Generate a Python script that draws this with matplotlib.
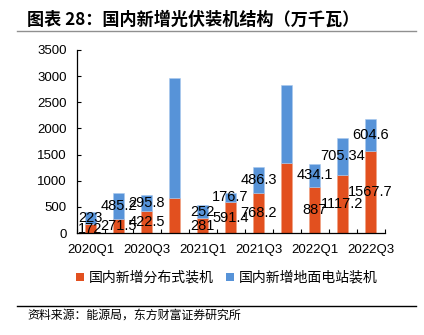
import matplotlib
matplotlib.use("Agg")
import matplotlib.pyplot as plt
from matplotlib.lines import Line2D
from matplotlib.patches import Patch

plt.rcParams['font.family'] = ['Liberation Sans', 'Noto Sans CJK SC', 'DejaVu Sans']

quarters = ["2020Q1", "2020Q2", "2020Q3", "2020Q4", "2021Q1", "2021Q2",
            "2021Q3", "2021Q4", "2022Q1", "2022Q2", "2022Q3"]
distributed = [172, 271.5, 422.5, 675, 281, 591.4, 768.2, 1345, 887, 1117.2, 1567.7]
ground = [223, 485.2, 295.8, 2280, 252, 176.7, 486.3, 1480, 434.1, 705.34, 604.6]
# quarters whose segments carry value labels
labelled = [True, True, True, False, True, True, True, False, True, True, True]
tick_labels = ["2020Q1", "2020Q3", "2021Q1", "2021Q3", "2022Q1", "2022Q3"]

series_names = ["国内新增分布式装机", "国内新增地面电站装机"]
title = "图表 28：国内新增光伏装机结构（万千瓦）"
source = "资料来源：能源局，东方财富证券研究所"

c_dist = "#E2501F"
c_ground = "#5793D8"

W, H = 424, 335
fig = plt.figure(figsize=(W / 100, H / 100), dpi=100)
ax = fig.add_axes([76.5 / W, 1 - 233 / H, 308 / W, 183 / H])

x = list(range(len(quarters)))
bw = 0.41
ax.bar(x, distributed, width=bw, color=c_dist, edgecolor="#F0A080", linewidth=0.4)
ax.bar(x, ground, width=bw, bottom=distributed, color=c_ground,
       edgecolor="#A9C9EE", linewidth=0.4)

for i in x:
    if not labelled[i]:
        continue
    d, g = distributed[i], ground[i]
    ax.text(i, d / 2, f"{d:g}", ha="center", va="center", fontsize=10.5, color="black")
    ax.text(i, d + g / 2, f"{g:g}", ha="center", va="center", fontsize=10.5, color="black")

ax.set_xlim(-0.5, len(quarters) - 0.5)
ax.set_ylim(0, 3500)
ax.set_yticks(range(0, 3501, 500))
ax.tick_params(axis="y", direction="in", length=3, width=0.8, labelsize=9.5,
               pad=7, colors="black")

# category boundaries carry the tick marks, labels sit on every other quarter
ax.set_xticks([i - 0.5 for i in range(len(quarters) + 1)])
ax.set_xticklabels([])
ax.tick_params(axis="x", which="major", direction="in", length=3, width=0.8)
ax.set_xticks(list(range(0, len(quarters), 2)), minor=True)
ax.set_xticklabels(tick_labels, minor=True)
ax.tick_params(axis="x", which="minor", length=0, labelsize=9.5, pad=8)

for s in ["top", "right"]:
    ax.spines[s].set_visible(False)
for s in ["left", "bottom"]:
    ax.spines[s].set_linewidth(0.9)
    ax.spines[s].set_color("black")

fig.text(27 / W, 1 - 19.5 / H, title, fontsize=12.3, fontweight="bold",
         ha="left", va="center", family=["Noto Sans CJK SC"])
fig.add_artist(Line2D([17 / W, 416 / W], [1 - 31 / H] * 2, color="#909090", linewidth=1))

handles = [Patch(facecolor=c_dist, edgecolor="none"), Patch(facecolor=c_ground, edgecolor="none")]
fig.legend(handles, series_names, loc="center", bbox_to_anchor=(227 / W, 1 - 278 / H),
           ncol=2, frameon=False, handlelength=0.55, handleheight=0.55,
           handletextpad=0.35, columnspacing=0.9,
           prop={"family": ["Noto Sans CJK SC"], "size": 10})

fig.add_artist(Line2D([17 / W, 416 / W], [1 - 305.7 / H] * 2, color="black", linewidth=1))
fig.text(27 / W, 1 - 315 / H, source, fontsize=8.6, ha="left", va="center",
         family=["Noto Sans CJK SC"])

fig.savefig("out.png", dpi=100)
